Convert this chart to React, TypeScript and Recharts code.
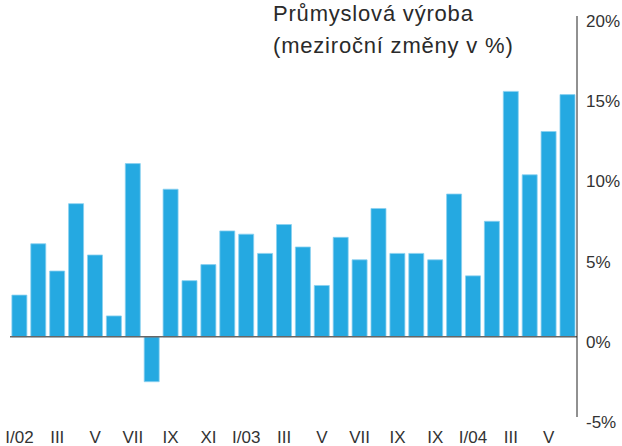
import { BarChart, Bar, XAxis, YAxis, ReferenceLine } from "recharts";

const months = [
  "I/02", "II", "III", "IV", "V", "VI", "VII", "VIII", "IX", "X", "XI", "XII",
  "I/03", "II", "III", "IV", "V", "VI", "VII", "VIII", "IX", "X", "IX", "XII",
  "I/04", "II", "III", "IV", "V", "VI",
];

const growth = [
  2.6, 5.8, 4.1, 8.3, 5.1, 1.3, 10.8, -2.8, 9.2, 3.5, 4.5, 6.6,
  6.4, 5.2, 7.0, 5.6, 3.2, 6.2, 4.8, 8.0, 5.2, 5.2, 4.8, 8.9,
  3.8, 7.2, 15.3, 10.1, 12.8, 15.1,
];

const yTicks = [-5, 0, 5, 10, 15, 20];

const data = months.map((m, i) => ({ month: m, value: growth[i] }));

const font = "'Liberation Sans', Arial, Helvetica, sans-serif";

export default function App() {
  return (
    <div style={{ position: "absolute", left: 0, top: 0, width: 622, height: 446, fontFamily: font }}>
      <BarChart
        width={622}
        height={446}
        data={data}
        margin={{ top: 16, right: 0, bottom: 0, left: 10 }}
        barCategoryGap="10%"
      >
        <XAxis
          dataKey="month"
          interval={1}
          tickLine={false}
          axisLine={false}
          tickMargin={8}
          height={29}
          tick={{ fontSize: 17, fill: "#333", fontFamily: font }}
        />
        <YAxis
          orientation="right"
          domain={[-5, 20]}
          ticks={yTicks}
          tickFormatter={(v: number) => `${v}%`}
          tickLine={false}
          axisLine={{ stroke: "#222", strokeWidth: 1 }}
          tickMargin={3}
          width={45}
          tick={{ fontSize: 17, fill: "#333", fontFamily: font, dy: 5 }}
        />
        <ReferenceLine y={0} stroke="#666" strokeWidth={1.5} />
        <Bar dataKey="value" fill="#25a9e1" stroke="#8ad0f0" strokeWidth={0.8} isAnimationActive={false} />
      </BarChart>
      <div
        style={{
          position: "absolute",
          left: 273,
          top: -2,
          fontSize: 22,
          letterSpacing: 0.8,
          lineHeight: "32px",
          color: "#2a2a2a",
          fontFamily: font,
          whiteSpace: "nowrap",
        }}
      >
        Průmyslová výroba
        <br />
        (meziroční změny v %)
      </div>
    </div>
  );
}
